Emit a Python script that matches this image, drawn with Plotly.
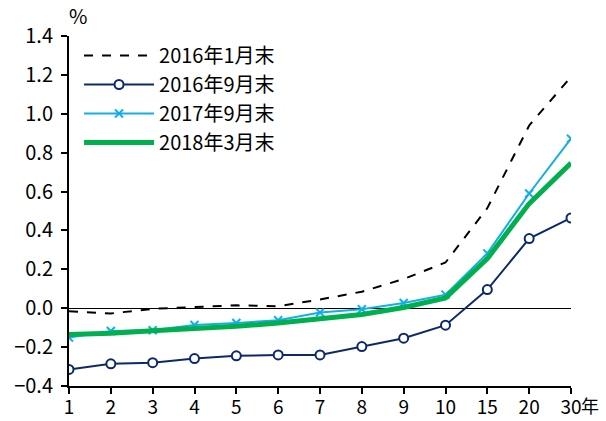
import plotly.graph_objects as go

categories = ["1", "2", "3", "4", "5", "6", "7", "8", "9", "10", "15", "20", "30"]
s2016_01 = [-0.015, -0.027, -0.003, 0.005, 0.015, 0.01, 0.045, 0.085, 0.15, 0.235, 0.515, 0.94, 1.19]
s2016_09 = [-0.315, -0.286, -0.28, -0.259, -0.245, -0.24, -0.24, -0.197, -0.154, -0.087, 0.096, 0.358, 0.464]
s2017_09 = [-0.151, -0.117, -0.113, -0.086, -0.076, -0.062, -0.022, -0.005, 0.027, 0.07, 0.282, 0.59, 0.872]
s2018_03 = [-0.135, -0.129, -0.116, -0.106, -0.093, -0.076, -0.053, -0.032, 0.004, 0.053, 0.255, 0.538, 0.747]
names = ["2016年1月末", "2016年9月末", "2017年9月末", "2018年3月末"]
y_ticks = [-0.4, -0.2, 0.0, 0.2, 0.4, 0.6, 0.8, 1.0, 1.2, 1.4]

FONT = "Noto Sans CJK JP"
FS = 20

fig = go.Figure()
fig.add_trace(go.Scatter(x=categories, y=s2016_01, name=names[0], mode="lines",
                         line=dict(color="black", width=2, dash="dash")))
fig.add_trace(go.Scatter(x=categories, y=s2016_09, name=names[1], mode="lines+markers",
                         line=dict(color="#0c2a69", width=2),
                         marker=dict(symbol="circle", size=9, color="white",
                                     line=dict(color="#0c2a69", width=2))))
fig.add_trace(go.Scatter(x=categories, y=s2017_09, name=names[2], mode="lines+markers",
                         line=dict(color="#12aee8", width=2),
                         marker=dict(symbol="x-thin", size=8,
                                     line=dict(color="#12aee8", width=2))))
fig.add_trace(go.Scatter(x=categories, y=s2018_03, name=names[3], mode="lines",
                         line=dict(color="#00b04f", width=5)))

fig.update_layout(
    width=606, height=421,
    margin=dict(l=69, r=35, t=36, b=35),
    paper_bgcolor="white", plot_bgcolor="white",
    font=dict(family=FONT, size=FS, color="black"),
    showlegend=True,
    legend=dict(x=0.02, y=1.0, xanchor="left", yanchor="top",
                bgcolor="rgba(0,0,0,0)", font=dict(size=FS, family=FONT),
                itemwidth=70, tracegroupgap=0),
    xaxis=dict(type="category", range=[0, 12], showgrid=False, automargin=False,
               showline=True, linecolor="black", linewidth=2,
               ticks="outside", ticklen=6, tickcolor="black", tickwidth=2,
               ticklabelstandoff=-3,
               tickfont=dict(size=19, family=FONT)),
    yaxis=dict(range=[-0.4, 1.4], tickvals=y_ticks, tickformat=".1f", automargin=False,
               showgrid=False, showline=True, linecolor="black", linewidth=2,
               ticks="outside", ticklen=6, tickcolor="black", tickwidth=2,
               ticklabelstandoff=4,
               zeroline=True, zerolinecolor="black", zerolinewidth=1,
               tickfont=dict(size=FS, family=FONT)),
    annotations=[
        dict(text="%", xref="paper", yref="paper", x=0.0, y=1.0, xanchor="left",
             yanchor="bottom", yshift=4, xshift=-2, showarrow=False,
             font=dict(size=FS, family=FONT)),
        dict(text="年", xref="paper", yref="paper", x=1.0, y=0.0, xanchor="left",
             yanchor="top", xshift=8, yshift=-4, showarrow=False,
             font=dict(size=18, family=FONT)),
    ],
)

fig.write_html("out.html")
